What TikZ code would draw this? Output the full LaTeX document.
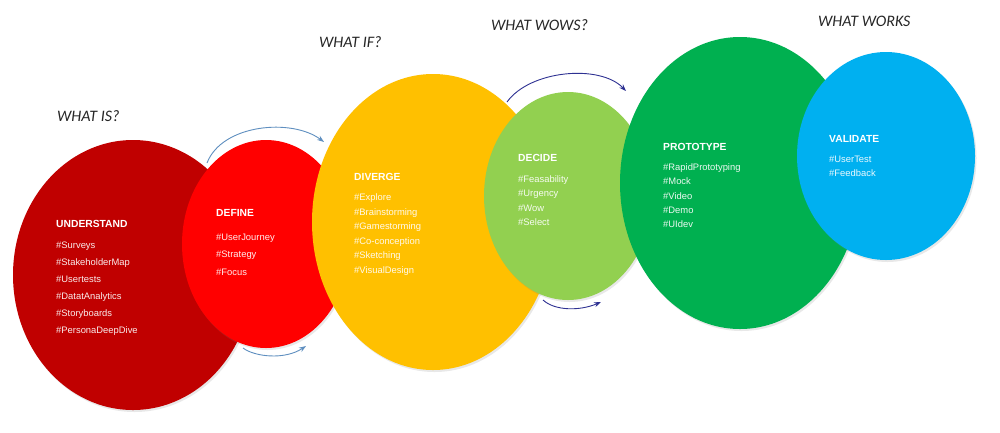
\documentclass[tikz,border=0pt]{standalone}
\usepackage{fontspec}
\setmainfont{Liberation Sans}
\newfontfamily\headfont{Carlito}
\usetikzlibrary{shapes.geometric,arrows.meta,shadows}
\definecolor{cUnd}{HTML}{C00000}
\definecolor{cDef}{HTML}{FF0000}
\definecolor{cDiv}{HTML}{FFC000}
\definecolor{cDec}{HTML}{92D050}
\definecolor{cPro}{HTML}{00B050}
\definecolor{cVal}{HTML}{00B0F0}
\definecolor{cArrA}{HTML}{5F8FC0}
\definecolor{cArrB}{HTML}{2E3192}
\tikzset{
  blob/.style={ellipse, inner sep=0pt, draw=none,
    drop shadow={shadow xshift=1.5pt, shadow yshift=-2pt, opacity=0.18}},
  ttl/.style={anchor=base west, inner sep=0pt, text=white,
    font=\fontsize{10.3}{12}\selectfont\bfseries},
  itm/.style={anchor=base west, inner sep=0pt, text=white, text opacity=0.92,
    font=\fontsize{9.4}{11}\selectfont},
  head/.style={anchor=west, inner sep=0pt, text=black!85,
    font=\fontsize{16}{18}\selectfont\headfont\itshape},
  arrA/.style={draw=cArrA, line width=0.9pt, -{Stealth[length=7pt,width=5pt]}},
  arrB/.style={draw=cArrB, line width=0.9pt, -{Stealth[length=7pt,width=5pt]}}
}
\newcommand{\itemlist}[5]{% prefix, x, y0, dy, list
  \foreach \t [count=\i] in {#5}{
    \node[itm] (#1-\i) at (#2, {#3+#4*(\i-1)+3.4}) {\t};
  }}
\begin{document}
\begin{tikzpicture}[x=1pt,y=-1pt]
\useasboundingbox[fill=white] (0,0) rectangle (1000,432);

% ellipses
\node[blob, fill=cUnd, minimum width=240pt, minimum height=270pt] (und) at (133,275) {};
\node[blob, fill=cDef, minimum width=168pt, minimum height=208pt] (def) at (266,244) {};
\node[blob, fill=cDiv, minimum width=242pt, minimum height=296pt] (div) at (433,222) {};
\node[blob, fill=cDec, minimum width=168pt, minimum height=208pt] (dec) at (568,196) {};
\node[blob, fill=cPro, minimum width=240pt, minimum height=292pt] (pro) at (740,183) {};
\node[blob, fill=cVal, minimum width=178pt, minimum height=208pt] (val) at (886,156) {};

% texts
\node[ttl] (undT) at (56,227.6) {UNDERSTAND};
\itemlist{u}{56}{245}{17}{\#Surveys,\#StakeholderMap,\#Usertests,\#DatatAnalytics,\#Storyboards,\#PersonaDeepDive}

\node[ttl] (defT) at (216,216.6) {DEFINE};
\itemlist{d}{216}{237}{17.5}{\#UserJourney,\#Strategy,\#Focus}

\node[ttl] (divT) at (354,180.6) {DIVERGE};
\itemlist{v}{354}{197}{14.6}{\#Explore,\#Brainstorming,\#Gamestorming,\#Co-conception,\#Sketching,\#VisualDesign}

\node[ttl] (decT) at (518,161.6) {DECIDE};
\itemlist{c}{518}{179}{14.4}{\#Feasability,\#Urgency,\#Wow,\#Select}

\node[ttl] (proT) at (663,150.6) {PROTOTYPE};
\itemlist{p}{663}{167}{14.3}{\#RapidPrototyping,\#Mock,\#Video,\#Demo,\#UIdev}

\node[ttl] (valT) at (829,142.6) {VALIDATE};
\itemlist{w}{829}{159}{14.5}{\#UserTest,\#Feedback}

% headings
\node[head] (h1) at (57,116.5) {WHAT IS?};
\node[head] (h2) at (319,42) {WHAT IF?};
\node[head] (h3) at (491,25.5) {WHAT WOWS?};
\node[head] (h4) at (818,21.5) {WHAT WORKS};

% arrows
\coordinate (a1s) at (207,163);
\coordinate (a1e) at (324,142);
\coordinate (a2s) at (243,348);
\coordinate (a2e) at (306,346);
\coordinate (a3s) at (507,102);
\coordinate (a3e) at (626,91);
\coordinate (a4s) at (543,300);
\coordinate (a4e) at (601,302);
\draw[arrA] (a1s) .. controls (222,124) and (292,118) .. (a1e);
\draw[arrA] (a2s) .. controls (255,357) and (285,360) .. (a2e);
\draw[arrB] (a3s) .. controls (530,70) and (600,64) .. (a3e);
\draw[arrB] (a4s) .. controls (555,311) and (580,311) .. (a4e);
\end{tikzpicture}
\end{document}
